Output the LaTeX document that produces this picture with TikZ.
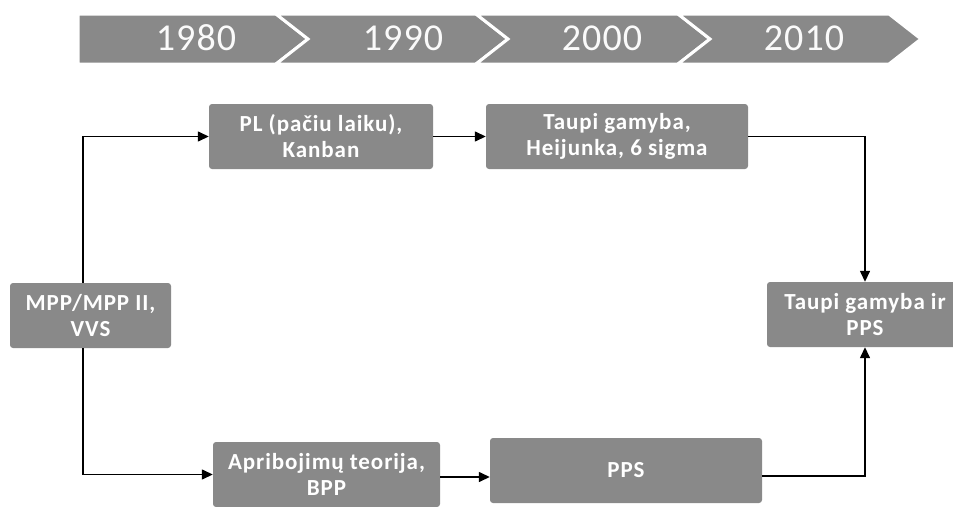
\documentclass[tikz,border=0pt]{standalone}
\usepackage{fontspec}
\setmainfont{Carlito}
\usepackage{tikz}
\usetikzlibrary{arrows.meta}
\definecolor{boxgray}{RGB}{137,137,137}

\begin{document}
\begin{tikzpicture}[x=1pt, y=-1pt,
    box/.style={fill=boxgray, rounded corners=3pt, text=white, align=center, inner sep=0pt,
                font=\fontsize{23}{26}\selectfont\bfseries\addfontfeature{LetterSpace=4}},
    link/.style={line width=1.4pt, -{Triangle[length=11pt, width=10pt]}},
    chev/.style={fill=boxgray, draw=white, line width=3pt, line join=miter},
    year/.style={text=white!96!gray, inner sep=0pt, font=\fontsize{38}{38}\selectfont\addfontfeature{LetterSpace=3}}]
        \useasboundingbox (0,0) rectangle (953,506);
        \clip (0,0) rectangle (953,506);

        \draw [chev]  (78,14) -- (276,14) -- (308,39) -- (276,64) -- (78,64) -- cycle;
        \foreach \l/\r in {276/476, 476/678, 678/889}
          \draw [chev]  (\l,14) -- (\r,14) -- (\r+32,39) -- (\r,64) -- (\l,64) -- (\l+32,39) -- cycle;

        \node [year] (y1980) at (196,38) {1980};
        \node [year] (y1990) at (403,38) {1990};
        \node [year] (y2000) at (602,38) {2000};
        \node [year] (y2010) at (804,38) {2010};

        \node [box, minimum width=161pt, minimum height=65pt] (mpp)   at (90.5,315.5) {MPP/MPP II,\\VVS};
        \node [box, minimum width=224pt, minimum height=65pt] (pl)    at (321,136.5)  {PL (pačiu laiku),\\Kanban};
        \node [box, minimum width=262pt, minimum height=65pt] (lean)  at (617,136.5)  {Taupi gamyba,\\Heijunka, 6 sigma};
        \node [box, minimum width=196pt, minimum height=65pt] (tps)   at (865,314.5)  {Taupi gamyba ir\\PPS};
        \node [box, minimum width=227pt, minimum height=65pt] (aprib) at (326.5,474.5) {Apribojimų teorija,\\BPP};
        \node [box, minimum width=272pt, minimum height=65pt] (pps)   at (626,470.5)  {PPS};

        \draw [link]  ([xshift=-7.5pt]mpp.north) |- (pl.west);
        \draw [link]  (pl.east) -- (lean.west);
        \draw [link]  (lean.east) -| (tps.north);
        \draw [link]  ([xshift=-7.5pt]mpp.south) |- (aprib.west);
        \draw [link]  ([yshift=-2.5pt]aprib.east) -- ([yshift=-2.5pt]aprib.east -| pps.west);
        \draw [link]  ([yshift=-5.5pt]pps.east) -| (tps.south);
      \end{tikzpicture}
\end{document}
